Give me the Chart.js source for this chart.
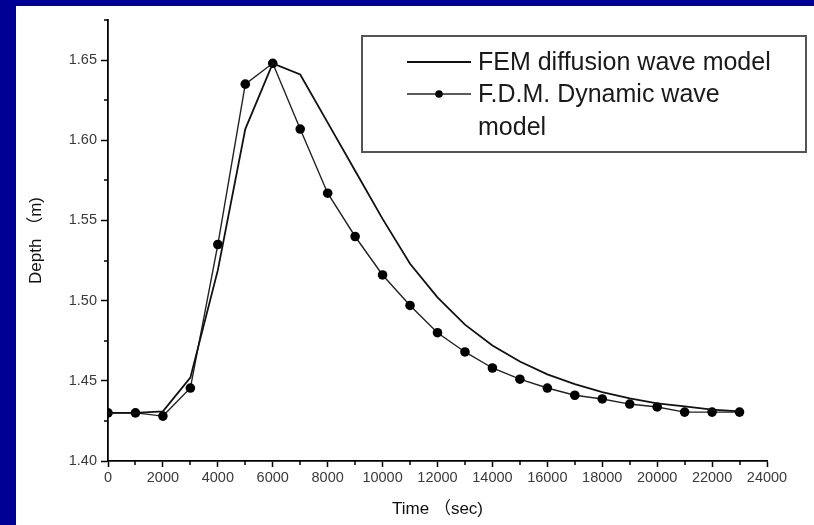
<!DOCTYPE html>
<html>
<head>
<meta charset="utf-8">
<script src="https://cdn.jsdelivr.net/npm/chart.js@4.4.0/dist/chart.umd.min.js"></script>
<style>
  html, body { margin: 0; padding: 0; background: #000094; }
  body { width: 814px; height: 525px; overflow: hidden; position: relative; }
  #wrap { position: absolute; left: 16px; top: 6px; width: 798px; height: 519px; background: #fff; }
</style>
</head>
<body>
<div id="wrap"><canvas id="depthChart" width="798" height="519"></canvas></div>
<script>
// time steps (sec)
const times = [0, 1000, 2000, 3000, 4000, 5000, 6000, 7000, 8000, 9000, 10000, 11000,
  12000, 13000, 14000, 15000, 16000, 17000, 18000, 19000, 20000, 21000, 22000, 23000];

// depth (m)
const femDepth = [1.430, 1.430, 1.431, 1.452, 1.519, 1.607, 1.648, 1.641, 1.611, 1.581, 1.551, 1.523,
  1.502, 1.485, 1.472, 1.462, 1.454, 1.448, 1.443, 1.439, 1.436, 1.434, 1.432, 1.431];
const fdmDepth = [1.430, 1.430, 1.428, 1.4455, 1.535, 1.635, 1.648, 1.607, 1.567, 1.540, 1.516, 1.497,
  1.480, 1.468, 1.458, 1.451, 1.4455, 1.441, 1.4387, 1.4355, 1.4337, 1.4305, 1.4305, 1.4305];

const seriesNames = ['FEM diffusion wave model', 'F.D.M. Dynamic wave model'];
const xTicks = [0, 2000, 4000, 6000, 8000, 10000, 12000, 14000, 16000, 18000, 20000, 22000, 24000];
const yTicks = [1.40, 1.45, 1.50, 1.55, 1.60, 1.65];

const FONT = "'Liberation Sans', Arial, 'Noto Sans CJK SC', sans-serif";

// short minor ticks half way between the labelled ones (Origin style)
const minorTicks = {
  id: 'minorTicks',
  afterDraw(chart) {
    const { ctx, chartArea, scales: { x, y } } = chart;
    ctx.save();
    ctx.strokeStyle = '#000';
    ctx.lineWidth = 1.5;
    ctx.beginPath();
    for (let i = 0; i < xTicks.length - 1; i++) {
      const px = Math.round(x.getPixelForValue((xTicks[i] + xTicks[i + 1]) / 2));
      ctx.moveTo(px, chartArea.bottom);
      ctx.lineTo(px, chartArea.bottom + 4);
    }
    const yMinor = [];
    for (let i = 0; i < yTicks.length - 1; i++) yMinor.push((yTicks[i] + yTicks[i + 1]) / 2);
    yMinor.push(y.max);
    yMinor.forEach(v => {
      const py = Math.round(y.getPixelForValue(v));
      ctx.moveTo(chartArea.left, py);
      ctx.lineTo(chartArea.left - 4, py);
    });
    ctx.stroke();
    ctx.restore();
  }
};

// boxed legend with the wrapped second label
const boxLegend = {
  id: 'boxLegend',
  afterDraw(chart) {
    const { ctx } = chart;
    const ds = chart.data.datasets;
    ctx.save();
    ctx.strokeStyle = '#555';
    ctx.lineWidth = 2;
    ctx.strokeRect(346, 30, 444, 116);

    ctx.font = '25px ' + FONT;
    ctx.fillStyle = '#1a1a1a';
    ctx.textBaseline = 'middle';

    // row 1
    ctx.strokeStyle = ds[0].borderColor;
    ctx.lineWidth = 2;
    ctx.beginPath(); ctx.moveTo(391, 56); ctx.lineTo(455, 56); ctx.stroke();
    ctx.fillText(ds[0].label, 462, 57);

    // row 2
    ctx.strokeStyle = ds[1].borderColor;
    ctx.lineWidth = 1.5;
    ctx.beginPath(); ctx.moveTo(391, 88); ctx.lineTo(455, 88); ctx.stroke();
    ctx.beginPath(); ctx.arc(423, 88, 3.8, 0, Math.PI * 2); ctx.fillStyle = '#000'; ctx.fill();
    const words = ds[1].label.split(' ');
    ctx.fillStyle = '#1a1a1a';
    ctx.fillText(words.slice(0, -1).join(' '), 462, 89);
    ctx.fillText(words[words.length - 1], 462, 122);
    ctx.restore();
  }
};

new Chart(document.getElementById('depthChart').getContext('2d'), {
  type: 'line',
  data: {
    datasets: [
      {
        label: seriesNames[0],
        data: times.map((t, i) => ({ x: t, y: femDepth[i] })),
        borderColor: '#111',
        borderWidth: 1.8,
        pointRadius: 0,
        tension: 0,
        fill: false
      },
      {
        label: seriesNames[1],
        data: times.map((t, i) => ({ x: t, y: fdmDepth[i] })),
        borderColor: '#222',
        borderWidth: 1.4,
        pointRadius: 4.8,
        pointBackgroundColor: '#000',
        pointBorderColor: '#000',
        pointBorderWidth: 0,
        tension: 0,
        fill: false
      }
    ]
  },
  options: {
    responsive: false,
    devicePixelRatio: 1,
    animation: false,
    layout: { padding: { left: 0, top: 14, right: 47, bottom: 0 } },
    plugins: {
      legend: { display: false },
      tooltip: { enabled: false }
    },
    scales: {
      x: {
        type: 'linear',
        position: 'bottom',
        min: 0,
        max: 24000,
        afterFit: s => { s.height = 64; },
        afterBuildTicks: s => { s.ticks = xTicks.map(v => ({ value: v })); },
        grid: { drawOnChartArea: false, tickLength: 6, tickColor: '#000', tickWidth: 1.5 },
        border: { display: true, color: '#000', width: 1.8 },
        ticks: {
          color: '#3a3a3a',
          font: { size: 14.5, family: FONT },
          padding: 2,
          maxRotation: 0,
          autoSkip: false,
          callback: v => String(v)
        },
        title: {
          display: true,
          text: 'Time （sec)',
          color: '#111',
          font: { size: 17, family: FONT },
          padding: { top: 0, bottom: 5 }
        }
      },
      y: {
        type: 'linear',
        min: 1.40,
        max: 1.675,
        afterFit: s => { s.width = 92; },
        afterBuildTicks: s => { s.ticks = yTicks.map(v => ({ value: v })); },
        grid: { drawOnChartArea: false, tickLength: 7, tickColor: '#000', tickWidth: 1.5 },
        border: { display: true, color: '#000', width: 1.8 },
        ticks: {
          color: '#3a3a3a',
          font: { size: 14.5, family: FONT },
          padding: 4,
          callback: v => Number(v).toFixed(2)
        },
        title: {
          display: true,
          text: 'Depth （m)',
          color: '#111',
          font: { size: 17, family: FONT },
          padding: { top: 10, bottom: 0 }
        }
      }
    }
  },
  plugins: [minorTicks, boxLegend]
});
</script>
</body>
</html>
